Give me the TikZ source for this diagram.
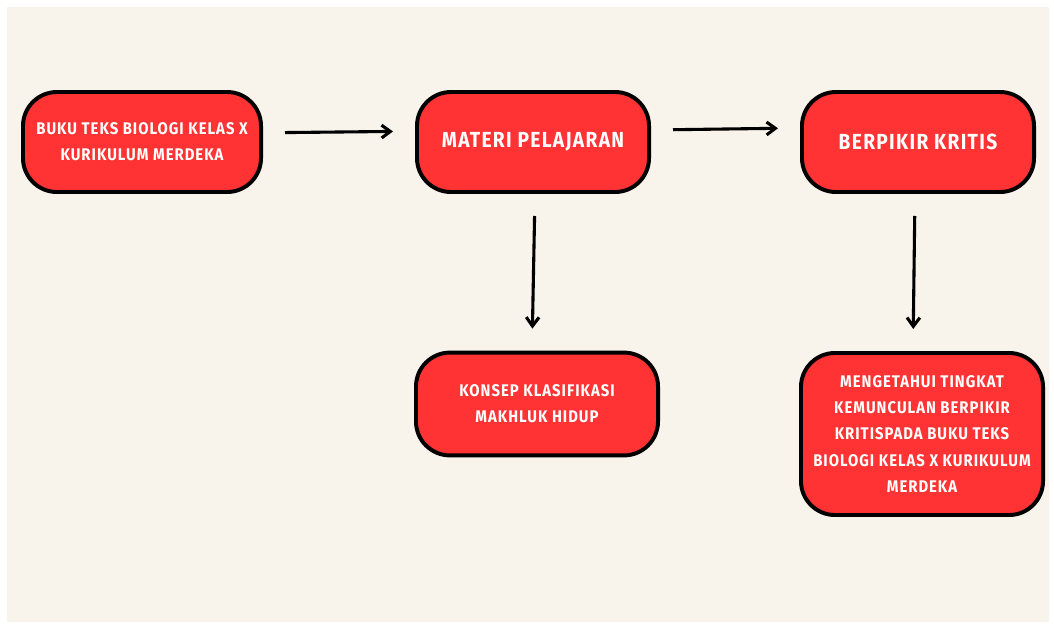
\documentclass[tikz,border=0pt]{standalone}
\usepackage{fontspec}
\usepackage{tikz}
\usetikzlibrary{arrows.meta}
\newfontfamily\boxfont[FakeStretch=0.88, LetterSpace=6]{Fira Sans}
\definecolor{boxred}{HTML}{FF3333}
\definecolor{paper}{HTML}{F8F3EB}
\tikzset{
  stepbox/.style={draw=black, line width=2.8pt, fill=boxred, rounded corners=0.85cm,
    text=white, align=center, font=\boxfont\bfseries\fontsize{12}{18.5}\selectfont,
    minimum width=5.95cm, minimum height=2.5cm, inner sep=0pt},
  bigbox/.style={stepbox, minimum width=5.8cm, font=\boxfont\bfseries\fontsize{15.5}{18}\selectfont},
  flow/.style={-{Straight Barb[length=0.22cm, width=0.32cm]}, line width=2.2pt,
    shorten >=0.55cm, shorten <=0.55cm}
}
\begin{document}
\begin{tikzpicture}[x=0.025cm, y=-0.025cm]
    \fill [white] (0, 0) rectangle (1054, 627);
    \fill [paper] (7, 7) rectangle (1049, 622);
    \node [stepbox] (buku) at (142, 142) {BUKU TEKS BIOLOGI KELAS X\\KURIKULUM MERDEKA};
    \node [bigbox] (materi) at (533, 142) {MATERI PELAJARAN};
    \node [bigbox] (berpikir) at (918, 142) {BERPIKIR KRITIS};
    \node [stepbox, minimum width=6.05cm, minimum height=2.57cm] (konsep) at (537, 404) {KONSEP KLASIFIKASI\\MAKHLUK HIDUP};
    \node [stepbox, minimum width=6.05cm, minimum height=4.05cm] (tujuan) at (922, 434) {MENGETAHUI TINGKAT\\KEMUNCULAN BERPIKIR\\KRITISPADA BUKU TEKS\\BIOLOGI KELAS X KURIKULUM\\MERDEKA};
    \draw [flow] ([yshift=0.23cm]buku.east) -- ([yshift=0.27cm]materi.west);
    \draw [flow] ([yshift=0.3cm]materi.east) -- ([yshift=0.35cm]berpikir.west);
    \draw [flow] (materi.south -| 535, 0) -- (konsep.north -| 532, 0);
    \draw [flow] (berpikir.south -| 915, 0) -- (tujuan.north -| 913, 0);
  \end{tikzpicture}
\end{document}
